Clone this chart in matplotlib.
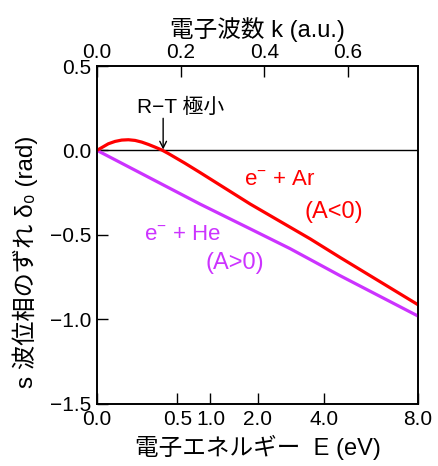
import numpy as np
import matplotlib
matplotlib.use("Agg")
import matplotlib.pyplot as plt

plt.rcParams['font.family'] = ['Liberation Sans', 'Noto Sans CJK JP', 'DejaVu Sans']
plt.rcParams['axes.unicode_minus'] = True
plt.rcParams['mathtext.default'] = 'regular'

# E (eV) = k^2 / 2 * 27.211  (k in atomic units)
HARTREE_EV = 27.2114

# s-wave phase shift vs wave number k (a.u.)
k_ar = [0.0, 0.011, 0.027, 0.043, 0.059, 0.075, 0.091, 0.107, 0.123, 0.139,
        0.155, 0.170, 0.210, 0.246, 0.366, 0.509, 0.581, 0.767]
delta_ar = [0.0, 0.016, 0.039, 0.053, 0.061, 0.063, 0.059, 0.049, 0.035, 0.019,
            0.002, -0.018, -0.076, -0.131, -0.318, -0.524, -0.635, -0.915]

k_he = [0.0, 0.246, 0.366, 0.461, 0.581, 0.767]
delta_he = [0.0, -0.318, -0.465, -0.582, -0.743, -0.982]

e_ticks = [0.0, 0.5, 1.0, 2.0, 4.0, 8.0]
e_labels = ["0.0", "0.5", "1.0", "2.0", "4.0", "8.0"]
k_ticks = [0.0, 0.2, 0.4, 0.6]
k_labels = ["0.0", "0.2", "0.4", "0.6"]
y_ticks = [0.5, 0.0, -0.5, -1.0, -1.5]
y_labels = ["0.5", "0.0", "\u22120.5", "\u22121.0", "\u22121.5"]

RED = "#ff0000"
PURPLE = "#cc33ff"


def e_to_k(e):
    return np.sqrt(2.0 * np.asarray(e) / HARTREE_EV)


fig = plt.figure(figsize=(4.38, 4.66), dpi=100)
ax = fig.add_axes([97 / 438, 1 - 403.5 / 466, 321 / 438, 337.5 / 466])

kmax = float(e_to_k(8.0))
ax.set_xlim(0, kmax)
ax.set_ylim(-1.5, 0.5)

ax.axhline(0.0, color="black", lw=1.0, zorder=1)
ax.plot(k_he, delta_he, color=PURPLE, lw=2.3, zorder=3, solid_capstyle="butt")
ax.plot(k_ar, delta_ar, color=RED, lw=2.3, zorder=4, solid_capstyle="butt",
        solid_joinstyle="round")

# bottom axis: energy, placed on the k scale
ax.set_xticks(e_to_k(e_ticks))
ax.set_xticklabels(e_labels)
ax.set_yticks(y_ticks)
ax.set_yticklabels(y_labels)
ax.tick_params(axis="both", direction="in", length=8, width=1.0, labelsize=15)
ax.tick_params(axis="x", pad=5)
ax.tick_params(axis="y", pad=4)

top = ax.twiny()
top.set_xlim(0, kmax)
top.set_xticks(k_ticks)
top.set_xticklabels(k_labels)
top.tick_params(axis="x", direction="in", length=8, width=1.0, labelsize=15, pad=3)

for a in (ax, top):
    for s in a.spines.values():
        s.set_linewidth(1.2)

ax.set_xlabel("電子エネルギー  E (eV)", fontsize=17, labelpad=4)
top.set_xlabel("電子波数 k (a.u.)", fontsize=17, labelpad=4)
fig.text(25 / 438, 1 - 262 / 466, "s 波位相のずれ δ\u2080 (rad)", fontsize=17.5,
         rotation=90, ha="center", va="center")

# Ramsauer-Townsend minimum marker
k_rt = 0.158
ax.text(0.2007, 0.253, "R\u2212T 極小", fontsize=15, ha="center", va="center")
ax.annotate("", xy=(k_rt, 0.005), xytext=(k_rt, 0.19),
            arrowprops=dict(arrowstyle="->", color="black", lw=1.0,
                            mutation_scale=12, shrinkA=0, shrinkB=0))

ax.text(0.437, -0.171, r"e$^{-}$ + Ar", color=RED, fontsize=16, ha="center", va="center")
ax.text(0.566, -0.365, "(A<0)", color=RED, fontsize=17, ha="center", va="center")
ax.text(0.2054, -0.50, r"e$^{-}$ + He", color=PURPLE, fontsize=16, ha="center", va="center")
ax.text(0.3297, -0.665, "(A>0)", color=PURPLE, fontsize=17, ha="center", va="center")

fig.savefig("out.png", dpi=100)
